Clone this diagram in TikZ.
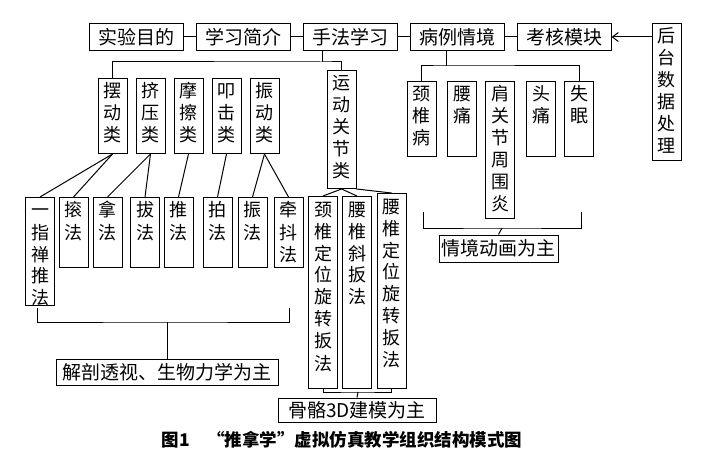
\documentclass[tikz,border=0pt]{standalone}
\usepackage{fontspec}
\setmainfont{Noto Sans CJK SC}
\usetikzlibrary{positioning, arrows.meta, calc}
\tikzset{
  % horizontal boxes
  topbox/.style={
    draw, line width=1pt, font=\fontsize{19pt}{22pt}\selectfont,
    minimum width=94pt, minimum height=27pt, inner sep=0pt
  },
  notebox/.style={
    draw, line width=1pt, font=\fontsize{19pt}{22pt}\selectfont,
    minimum height=26pt, inner sep=0pt
  },
  % vertical text boxes, text at top
  vbox/.style={
    draw, line width=1pt, anchor=north, align=center,
    font=\fontsize{18pt}{22pt}\selectfont,
    text width=18pt, inner xsep=5.5pt, inner ysep=4pt, text height=15.5pt
  },
  % lines
  link/.style={line width=1pt},
  feed/.style={line width=1pt, -{Straight Barb[length=6pt,width=9pt]}},
}

\begin{document}
\begin{tikzpicture}[x=1pt, y=-1pt]
  \useasboundingbox (0,0) rectangle (718,468);

  %% -- Top row --
  \node[topbox] (aim) at (136,37) {实验目的};
  \node[topbox, right=12pt of aim]   (intro) {学习简介};
  \node[topbox, right=12pt of intro] (tech)  {手法学习};
  \node[topbox, right=12pt of tech]  (cases) {病例情境};
  \node[topbox, right=12pt of cases] (exam)  {考核模块};
  \node[vbox, text depth=113.5pt] (backend) at (666.5,23) {后\\台\\数\\据\\处\\理};

  %% -- Technique categories --
  \node[vbox, text depth=51.5pt] (swing) at (112.5,78) {摆\\动\\类};
  \node[vbox, text depth=51.5pt, right=8pt of swing] (press) {挤\\压\\类};
  \node[vbox, text depth=51.5pt, right=8pt of press] (rub)   {摩\\擦\\类};
  \node[vbox, text depth=51.5pt, right=8pt of rub]   (tap)   {叩\\击\\类};
  \node[vbox, text depth=51.5pt, right=8pt of tap]   (vib)   {振\\动\\类};
  \node[vbox, text depth=94.5pt] (joint) at (341.5,70) {运\\动\\关\\节\\类};

  %% -- Techniques --
  \node[vbox, text depth=84.5pt] (yizhi)  at (40,197)    {一\\指\\禅\\推\\法};
  \node[vbox, text depth=46.5pt] (roll)   at (73.5,197)  {㨰\\法};
  \node[vbox, text depth=46.5pt] (grasp)  at (107.5,197) {拿\\法};
  \node[vbox, text depth=46.5pt] (pull)   at (145,197)   {拔\\法};
  \node[vbox, text depth=46.5pt] (push)   at (178.5,197) {推\\法};
  \node[vbox, text depth=46.5pt] (pat)    at (217.5,197) {拍\\法};
  \node[vbox, text depth=46.5pt] (shake)  at (252.5,197) {振\\法};
  \node[vbox, text depth=46.5pt] (shiver) at (288.5,197) {牵\\抖\\法};

  \node[vbox, text depth=168.5pt] (cerv)    at (323,196) {颈\\椎\\定\\位\\旋\\转\\扳\\法};
  \node[vbox, text depth=168.5pt] (lumbobl) at (357,196) {腰\\椎\\斜\\扳\\法};
  \node[vbox, text depth=171.5pt] (lumbrot) at (391.5,193) {腰\\椎\\定\\位\\旋\\转\\扳\\法};

  %% -- Cases --
  \node[vbox, text depth=51.5pt]  (neck)     at (421.5,81) {颈\\椎\\病};
  \node[vbox, text depth=51.5pt]  (waist)    at (462,81)   {腰\\痛};
  \node[vbox, text depth=113.5pt] (shoulder) at (500,81)   {肩\\关\\节\\周\\围\\炎};
  \node[vbox, text depth=51.5pt]  (head)     at (541,81)   {头\\痛};
  \node[vbox, text depth=51.5pt]  (insomnia) at (579,81)   {失\\眠};

  %% -- Notes --
  \node[notebox, minimum width=222pt] (anat)   at (167,372)   {解剖透视、生物力学为主};
  \node[notebox, minimum width=158pt, minimum height=24pt] (bone3d) at (357,410) {骨骼3D建模为主};
  \node[notebox, minimum width=119pt, minimum height=27pt] (scene)  at (498.5,248.5) {情境动画为主};

  \node[font=\fontsize{17.5pt}{20pt}\selectfont\bfseries] (caption) at (342,440)
    {图1\quad “推拿学”虚拟仿真教学组织结构模式图};

  %% -- Top chain --
  \draw[link] (aim) -- (intro);
  \draw[link] (intro) -- (tech);
  \draw[link] (tech) -- (cases);
  \draw[link] (cases) -- (exam);
  \draw[feed] (exam -| backend.west) -- (exam.east);

  %% -- Technique tree --
  \coordinate (techJ) at (322,62);
  \draw[link] (tech.south -| techJ) -- (techJ);
  \draw[link] (swing.north) |- (techJ) -| (joint.north);

  \draw[link] (swing.south) -- (yizhi.north);
  \draw[link] (swing.south) -- (roll.north);
  \draw[link] (press.south) -- (grasp.north);
  \draw[link] (press.south) -- (pull.north);
  \draw[link] (rub.south)   -- (push.north);
  \draw[link] (tap.south)   -- (pat.north);
  \draw[link] (vib.south)   -- (shake.north);
  \draw[link] (vib.south)   -- (shiver.north);

  \draw[link] (joint.south) -- (cerv.north);
  \draw[link] (joint.south) -- (lumbobl.north);
  \draw[link] (joint.south east) -- (lumbrot.north);

  % bracket: anatomy
  \coordinate (anatL) at (37,308);
  \coordinate (anatR) at (289,308);
  \coordinate (anatJ) at (167,322);
  \draw[link] (anatL) |- (anatJ) -| (anatR);
  \draw[link] (anatJ) -- (anat.north);

  % bracket: 3D model
  \coordinate (boneJ) at (358,392);
  \draw[link] (cerv.south) |- (boneJ) -| (lumbrot.south);
  \draw[link] (boneJ) -- (bone3d.north);

  %% -- Case tree --
  \coordinate (caseJ) at (446,66);
  \draw[link] (cases.south -| caseJ) -- (caseJ);
  \draw[link] (neck.north) |- (caseJ) -| (insomnia.north);

  \coordinate (sceneL) at (423,212);
  \coordinate (sceneR) at (581,212);
  \coordinate (sceneJ) at (502,228);
  \draw[link] (sceneL) |- (sceneJ) -| (sceneR);
  \draw[link] (sceneJ) -- (scene.north);

\end{tikzpicture}
\end{document}
